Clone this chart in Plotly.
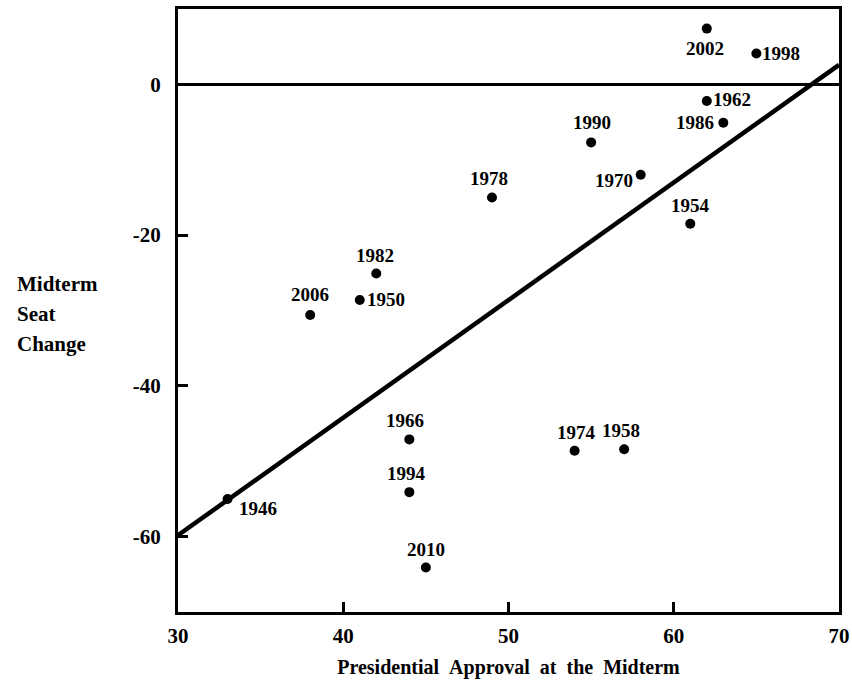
import numpy as np
import plotly.graph_objects as go

years = ["1946", "1950", "1954", "1958", "1962", "1966", "1970", "1974", "1978",
         "1982", "1986", "1990", "1994", "1998", "2002", "2006", "2010"]
approval = [33, 41, 61, 57, 62, 44, 58, 54, 49, 42, 63, 55, 44, 65, 62, 38, 45]
seat_change = [-55, -28.6, -18.5, -48.4, -2.2, -47.1, -12.0, -48.6, -15.0,
               -25.1, -5.1, -7.7, -54.1, 4.1, 7.4, -30.6, -64.1]
x_ticks = [30, 40, 50, 60, 70]
y_ticks = [0, -20, -40, -60]
y_tick_labels = ["0", "-20", "-40", "-60"]
y_title_lines = ["Midterm", "Seat", "Change"]

# label placement (style only)
label_pos = {
    "1946": ("left", "middle", 9, -10),
    "1950": ("left", "middle", 5, 0),
    "1954": ("center", "bottom", 0, 6),
    "1958": ("center", "bottom", -3, 6),
    "1962": ("left", "middle", 4, 1),
    "1966": ("center", "bottom", -4, 6),
    "1970": ("right", "middle", -6, -6),
    "1974": ("center", "bottom", 2, 6),
    "1978": ("center", "bottom", -3, 6),
    "1982": ("center", "bottom", -1, 6),
    "1986": ("right", "middle", -7, 0),
    "1990": ("center", "bottom", 1, 7),
    "1994": ("center", "bottom", -3, 6),
    "1998": ("left", "middle", 4, 0),
    "2002": ("center", "top", -2, -7),
    "2006": ("center", "bottom", 0, 8),
    "2010": ("center", "bottom", 0, 6),
}

FONT = "Liberation Serif"

slope, intercept = np.polyfit(approval, seat_change, 1)
fit_x = np.array([x_ticks[0], x_ticks[-1]], dtype=float)
fit_y = slope * fit_x + intercept

fig = go.Figure()
fig.add_trace(go.Scatter(x=fit_x, y=fit_y, mode="lines",
                         line=dict(color="black", width=4.5),
                         hoverinfo="skip", showlegend=False, cliponaxis=True))
fig.add_trace(go.Scatter(x=approval, y=seat_change, mode="markers",
                         marker=dict(color="black", size=10),
                         text=years, showlegend=False))

fig.add_hline(y=0, line=dict(color="black", width=3))

for yr, xv, yv in zip(years, approval, seat_change):
    xa, ya, dx, dy = label_pos[yr]
    fig.add_annotation(x=xv, y=yv, text="<b>" + yr + "</b>", showarrow=False,
                       xanchor=xa, yanchor=ya, xshift=dx, yshift=dy,
                       font=dict(family=FONT, size=19, color="black"))

for i, line in enumerate(y_title_lines):
    fig.add_annotation(xref="paper", yref="paper", x=-0.2466, y=0.544 - i * 0.0497,
                       xanchor="left", yanchor="middle", align="left",
                       text="<b>" + line + "</b>", showarrow=False,
                       font=dict(family=FONT, size=21, color="black"))

fig.update_layout(
    width=852, height=688,
    margin=dict(l=178, r=13, t=9, b=76, autoexpand=False),
    paper_bgcolor="white", plot_bgcolor="white",
    font=dict(family=FONT, color="black"),
)
fig.update_xaxes(range=[30, 70], tickvals=x_ticks, ticks="inside", ticklen=10,
                 tickwidth=2.5, tickcolor="black", showgrid=False, zeroline=False,
                 showline=True, linecolor="black", linewidth=3, mirror=True,
                 ticklabelstandoff=3, automargin=False,
                 tickfont=dict(family=FONT, size=21, color="black", weight="bold"),
                 title=dict(text="<b>Presidential\u00a0\u00a0Approval\u00a0\u00a0at\u00a0\u00a0the\u00a0\u00a0Midterm</b>",
                            font=dict(family=FONT, size=20, color="black"), standoff=13))
fig.update_yaxes(range=[-70, 10], tickvals=y_ticks, ticktext=y_tick_labels,
                 ticks="inside", ticklen=10,
                 tickwidth=2.5, tickcolor="black", showgrid=False, zeroline=False,
                 showline=True, linecolor="black", linewidth=3, mirror=True,
                 ticklabelstandoff=10, automargin=False,
                 tickfont=dict(family=FONT, size=21, color="black", weight="bold"))

fig.write_html("out.html", config={"displayModeBar": False},
               post_script="document.body.style.margin='0';document.body.style.overflow='hidden';")
